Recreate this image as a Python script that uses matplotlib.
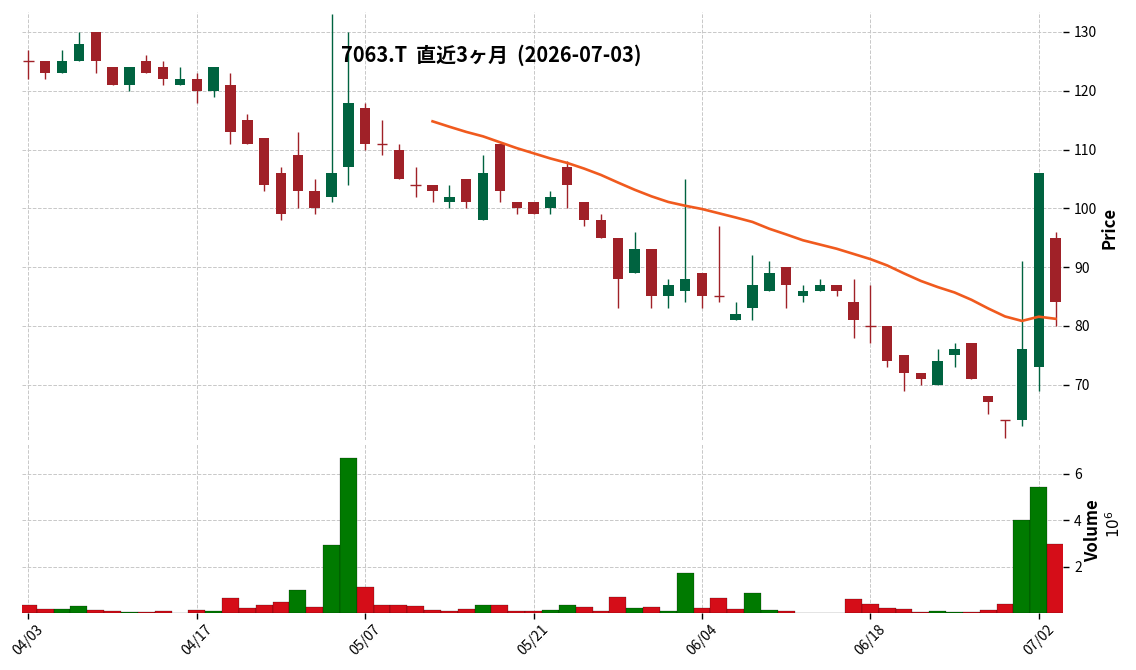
import matplotlib
matplotlib.use('Agg')
import matplotlib.pyplot as plt
import numpy as np
import pandas as pd
from matplotlib.ticker import FixedLocator, FuncFormatter

plt.rcParams['font.family'] = ['Noto Sans CJK JP', 'DejaVu Sans']

# ---------------- data ----------------
dates = ['2026-04-03', '2026-04-06', '2026-04-07', '2026-04-08', '2026-04-09', '2026-04-10',
         '2026-04-13', '2026-04-14', '2026-04-15', '2026-04-16', '2026-04-17', '2026-04-20',
         '2026-04-21', '2026-04-22', '2026-04-23', '2026-04-24', '2026-04-27', '2026-04-28',
         '2026-04-30', '2026-05-01', '2026-05-07', '2026-05-08', '2026-05-11', '2026-05-12',
         '2026-05-13', '2026-05-14', '2026-05-15', '2026-05-18', '2026-05-19', '2026-05-20',
         '2026-05-21', '2026-05-22', '2026-05-25', '2026-05-26', '2026-05-27', '2026-05-28',
         '2026-05-29', '2026-06-01', '2026-06-02', '2026-06-03', '2026-06-04', '2026-06-05',
         '2026-06-08', '2026-06-09', '2026-06-10', '2026-06-11', '2026-06-12', '2026-06-15',
         '2026-06-16', '2026-06-17', '2026-06-18', '2026-06-19', '2026-06-22', '2026-06-23',
         '2026-06-24', '2026-06-25', '2026-06-26', '2026-06-29', '2026-06-30', '2026-07-01',
         '2026-07-02', '2026-07-03']

opens = [125, 125, 123, 125, 130, 124, 121, 125, 124, 121, 122, 120,
         121, 115, 112, 106, 109, 103, 102, 107, 117, 111, 110, 104,
         104, 101, 105, 98, 111, 101, 101, 100, 107, 101, 98, 95,
         89, 93, 85, 86, 89, 85, 81, 83, 86, 90, 85, 86,
         87, 84, 80, 80, 75, 72, 70, 75, 77, 68, 64, 64,
         73, 95]
highs = [127, 125, 127, 130, 130, 124, 124, 126, 125, 124, 123, 124,
         123, 116, 112, 107, 113, 105, 133, 130, 118, 115, 111, 107,
         104, 104, 105, 109, 111, 101, 101, 103, 108, 101, 99, 95,
         96, 93, 88, 105, 89, 97, 84, 92, 91, 90, 87, 88,
         87, 88, 87, 80, 75, 72, 76, 77, 77, 68, 64, 91,
         106, 96]
lows = [122, 122, 123, 125, 123, 121, 120, 123, 121, 121, 118, 119,
        111, 111, 103, 98, 100, 99, 101, 104, 110, 109, 105, 102,
        101, 100, 100, 98, 101, 99, 99, 99, 100, 97, 95, 83,
        89, 83, 83, 84, 83, 84, 81, 81, 86, 83, 84, 86,
        85, 78, 77, 73, 69, 70, 70, 73, 71, 65, 61, 63,
        69, 80]
closes = [125, 123, 125, 128, 125, 121, 124, 123, 122, 122, 120, 124,
          113, 111, 104, 99, 103, 100, 106, 118, 111, 111, 105, 104,
          103, 102, 101, 106, 103, 100, 99, 102, 104, 98, 95, 88,
          93, 85, 87, 88, 85, 85, 82, 87, 89, 87, 86, 87,
          86, 81, 80, 74, 72, 71, 74, 76, 71, 67, 64, 76,
          106, 84]
volumes = [340000, 170000, 170000, 300000, 130000, 90000, 30000, 30000, 90000, 0,
           130000, 90000, 640000, 210000, 340000, 470000, 990000, 260000, 2910000, 6690000,
           1110000, 340000, 340000, 300000, 130000, 90000, 170000, 340000, 340000, 90000,
           90000, 130000, 340000, 260000, 90000, 690000, 210000, 260000, 90000, 1710000,
           210000, 640000, 170000, 860000, 130000, 90000, 0, 0, 0, 600000,
           390000, 210000, 170000, 40000, 90000, 40000, 40000, 130000, 390000, 4020000,
           5440000, 2960000]

title = '7063.T  直近3ヶ月  (2026-07-03)'
ma_window = 25
price_ticks = [70, 80, 90, 100, 110, 120, 130]
volume_ticks = [2e6, 4e6, 6e6]
xtick_every = 10

# ---------------- style ----------------
UP, DOWN = '#006340', '#a02128'
VUP, VDOWN = '#007a00', '#d50d18'
MA_COLOR = '#f05a1e'
GRID = '#c8c8c8'

W, H = 1136, 670
fig = plt.figure(figsize=(W / 100, H / 100), dpi=100)
left_px, right_px = 22, 1063
ax = fig.add_axes([left_px / W, 1 - 440 / H, (right_px - left_px) / W, (440 - 12) / H])
axv = fig.add_axes([left_px / W, 1 - 613 / H, (right_px - left_px) / W, (613 - 443) / H], sharex=ax)

x = np.arange(len(dates))
o = np.array(opens, float); c = np.array(closes, float)
h = np.array(highs, float); l = np.array(lows, float)
v = np.array(volumes, float)

ccol = [UP if cc > oo else DOWN for oo, cc in zip(o, c)]
prev = np.r_[c[0] + 1, c[:-1]]
vcol = [VUP if cc > pp else VDOWN for cc, pp in zip(c, prev)]

body_w = 0.62
ax.vlines(x, l, h, colors=ccol, linewidth=1.0, zorder=2)
bh = np.abs(c - o)
bb = np.minimum(o, c)
mask = bh > 0
ax.bar(x[mask], bh[mask], bottom=bb[mask], width=body_w,
       color=np.array(ccol)[mask], edgecolor='none', zorder=3)
dm = ~mask
ax.hlines(c[dm], x[dm] - body_w / 2, x[dm] + body_w / 2,
          colors=np.array(ccol)[dm], linewidth=1.0, zorder=3)

ma = pd.Series(c).rolling(ma_window).mean()
ax.plot(x, ma.values, color=MA_COLOR, linewidth=1.9, zorder=4)

axv.bar(x, v, width=1.0, color=vcol, edgecolor='#000000', linewidth=0.15, zorder=3)

for a in (ax, axv):
    for s in a.spines.values():
        s.set_visible(False)
    a.grid(True, linestyle='--', color=GRID, linewidth=0.7, zorder=0)
    a.set_axisbelow(True)
    a.yaxis.tick_right()
    a.tick_params(axis='y', which='major', length=4, width=1.0, pad=4,
                  labelsize=10, direction='out')

ax.set_xlim(-0.38, len(dates) - 0.56)
ax.set_ylim(60.58, 133.4)
ax.yaxis.set_major_locator(FixedLocator(price_ticks))
ax.tick_params(axis='x', bottom=False, labelbottom=False)

axv.set_ylim(0, 7.32e6)
axv.yaxis.set_major_locator(FixedLocator(volume_ticks))
axv.yaxis.set_major_formatter(FuncFormatter(lambda val, pos: f'{val / 1e6:g}'))

xt = list(range(0, len(dates), xtick_every))
axv.xaxis.set_major_locator(FixedLocator(xt))
axv.set_xticklabels([dates[i][5:].replace('-', '/') for i in xt], rotation=45,
                    ha='center', fontsize=10)
axv.tick_params(axis='x', length=4, width=1.0, pad=3)

fig.text(1110 / W, 1 - 228 / H, 'Price', rotation=90, ha='center', va='center',
         fontsize=12, fontweight='bold')
fig.text(1093 / W, 1 - 531 / H, 'Volume', rotation=90, ha='center', va='center',
         fontsize=12, fontweight='bold')
fig.text(1115 / W, 1 - 524 / H, '$10^{6}$', rotation=90, ha='center', va='center',
         fontsize=11)

fig.text(341 / W, 1 - 55 / H, title, ha='left', va='center', fontsize=14.4,
         fontweight='bold')

fig.savefig('out.png', dpi=100)
